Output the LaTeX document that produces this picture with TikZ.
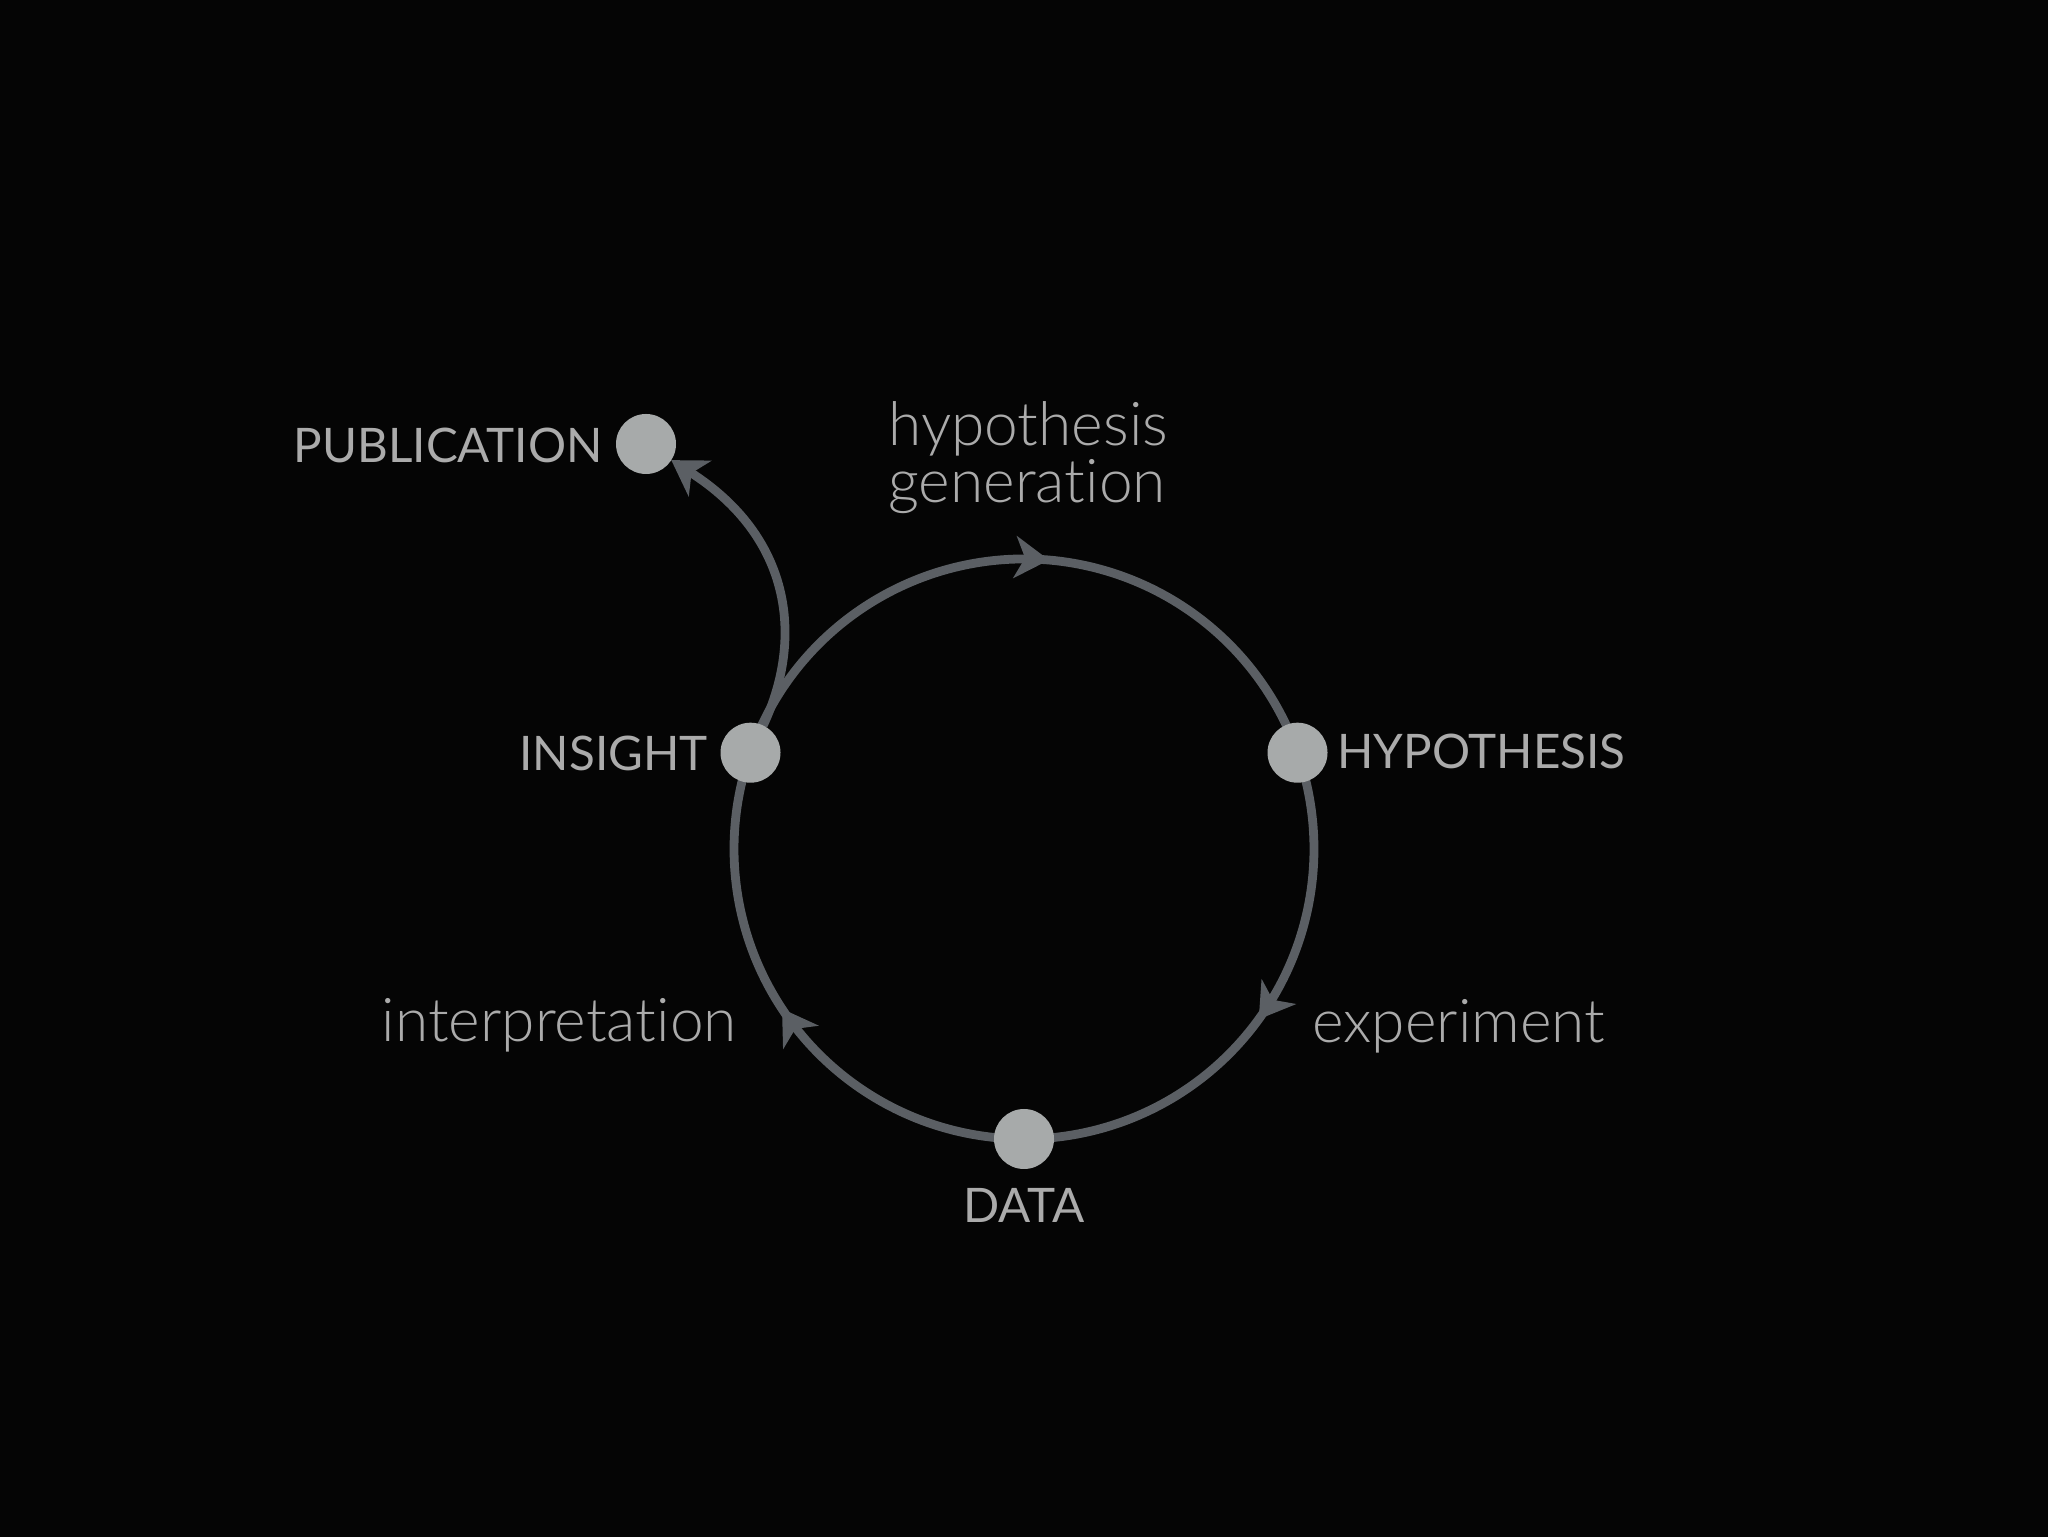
\documentclass[tikz,border=0pt]{standalone}
\usepackage{fontspec}
\setmainfont{Lato}[Ligatures=NoCommon]
\newfontfamily\latolight{Lato Light}[Ligatures=NoCommon]
\usetikzlibrary{arrows.meta,decorations.markings}
\definecolor{bgc}{HTML}{050505}
\definecolor{linec}{HTML}{5B5F64}
\definecolor{dotc}{HTML}{A7AAAA}
\definecolor{txtc}{HTML}{ABABAB}
\pgfdeclarelayer{bglayer}
\pgfdeclarelayer{edges}
\pgfsetlayers{bglayer,edges,main}
\tikzset{
  dot/.style={circle, fill=dotc, minimum size=30pt, inner sep=0pt, outer sep=0pt},
  caps/.style={text=txtc, inner sep=0pt, font=\fontsize{23.8}{28}\selectfont},
  lower/.style={text=txtc, inner sep=0pt, font=\latolight\fontsize{30.2}{28.5}\selectfont},
  cyc/.style={line width=4.4pt, draw=linec, postaction={decorate},
    decoration={markings, mark=at position #1 with {\arrow[linec]{Stealth[length=17pt,width=21pt,inset=5pt]}}}},
  pubarrow/.style={line width=4.4pt, draw=linec, -{Stealth[length=17pt,width=21pt,inset=5pt]}}
}
\begin{document}
\begin{tikzpicture}[x=0.5pt,y=0.5pt]
\useasboundingbox (0,0) rectangle (2048,1536);
\begin{pgfonlayer}{bglayer}
  \fill[bgc] (-10,-10) rectangle (2058,1546);
\end{pgfonlayer}
% dots
\node[dot] (ins) at (750.5,783.3) {};
\node[dot] (hyp) at (1297.5,783.3) {};
\node[dot] (dat) at (1024,397) {};
\node[dot] (pub) at (646,1092) {};
% labels
\node[caps, anchor=base east] (lpub) at (603,1073) {PUBLICATION};
\node[caps, anchor=base east] (lins) at (708,765) {INSIGHT};
\node[caps, anchor=base west] (lhyp) at (1337,767) {HYPOTHESIS};
\node[caps, anchor=base] (ldat) at (1024,314) {DATA};
\node[lower, anchor=base west] (lexp) at (1312,493) {experiment};
\node[lower, anchor=base east] (lint) at (737,494) {interpretation};
\node[lower, anchor=south west, align=left, text depth=0pt] (lgen) at (888,1033) {hypothesis\\generation};
% connectors
\begin{pgfonlayer}{edges}
  \draw[cyc=0.535] (ins.center) arc[start angle=160.6, end angle=19.4, radius=290];
  \draw[cyc=0.506] (hyp.center) arc[start angle=19.4, end angle=-90, radius=290];
  \draw[cyc=0.517] (dat.center) arc[start angle=270, end angle=160.6, radius=290];
  \draw[pubarrow] (ins) .. controls (805,900) and (790,1000) .. (pub);
\end{pgfonlayer}
\end{tikzpicture}
\end{document}
